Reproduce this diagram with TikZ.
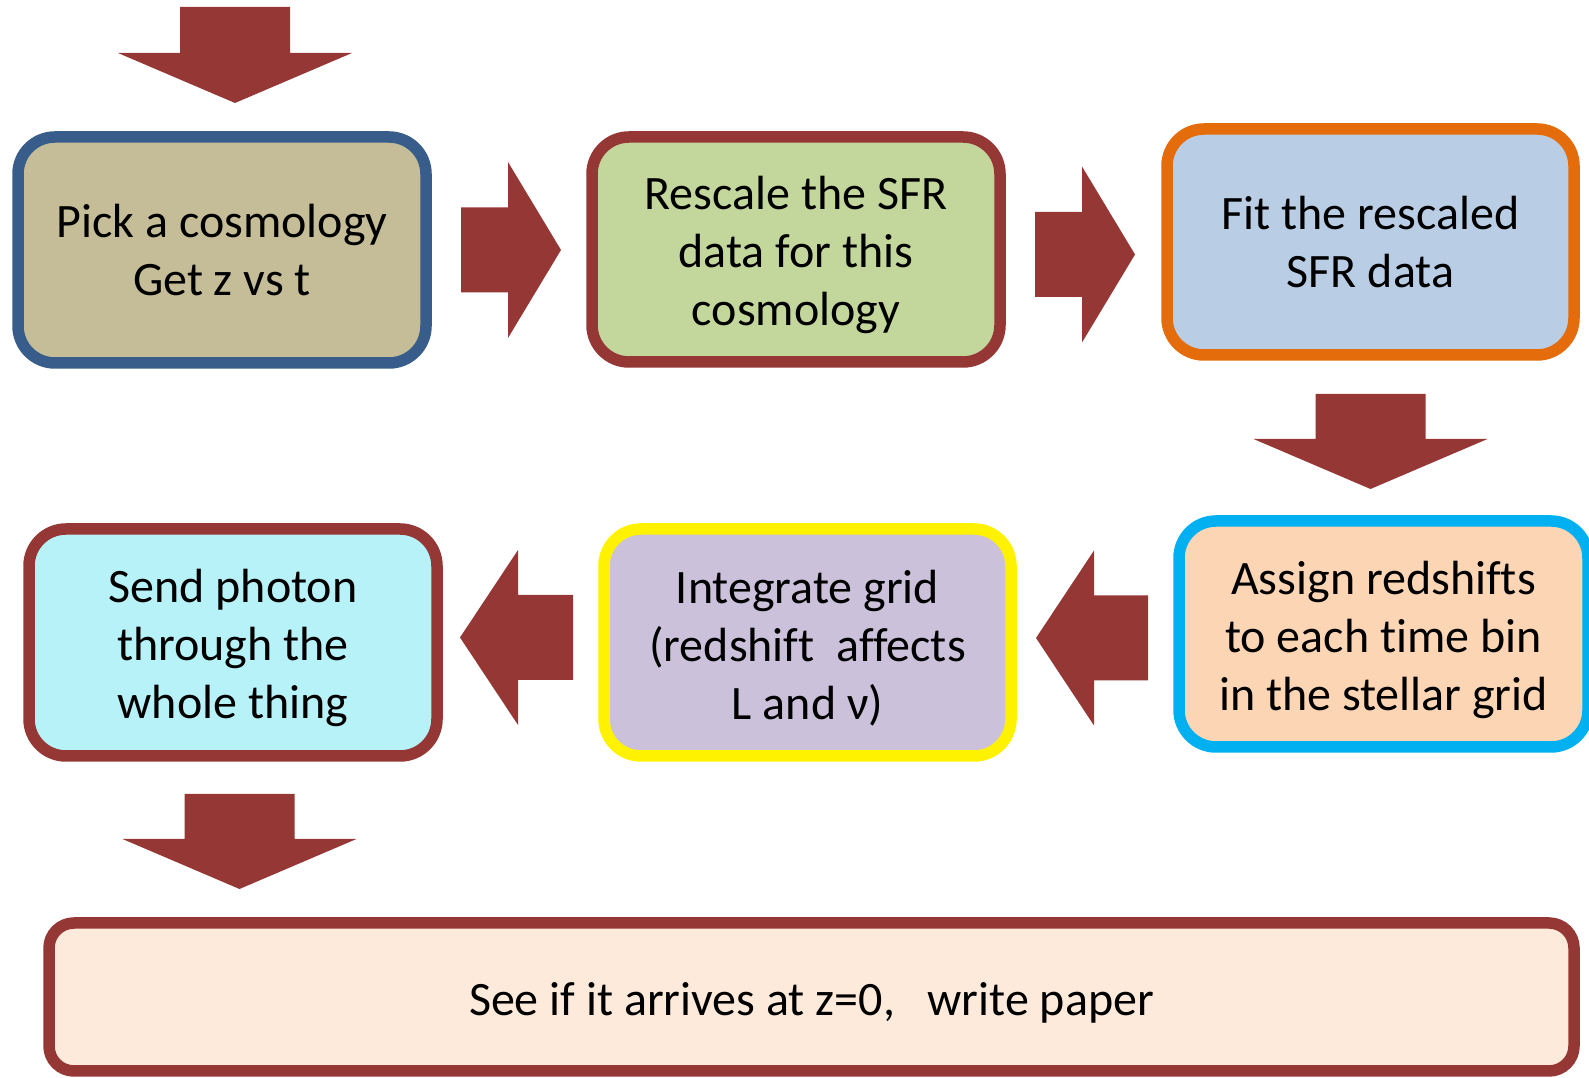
\documentclass[tikz,border=0pt]{standalone}
\usepackage{fontspec}
\setmainfont{Carlito}[Ligatures=NoCommon]
\usetikzlibrary{calc}
\definecolor{arrowred}{RGB}{149,55,53}
\definecolor{cosmoline}{RGB}{56,93,138}
\definecolor{cosmofill}{RGB}{196,189,151}
\definecolor{rescalefill}{RGB}{195,214,155}
\definecolor{fitfill}{RGB}{185,205,229}
\definecolor{fitline}{RGB}{228,108,10}
\definecolor{photonfill}{RGB}{183,242,249}
\definecolor{integratefill}{RGB}{204,193,218}
\definecolor{assignfill}{RGB}{252,213,181}
\definecolor{assignline}{RGB}{0,176,240}
\definecolor{paperfill}{RGB}{253,234,218}
\newcommand\firststrut{\rule{0pt}{45pt}}
\begin{document}
\begin{tikzpicture}[x=1pt, y=1pt,
  stepbox/.style={shape=rectangle, rounded corners=37pt, line width=11.5pt,
    inner sep=0pt, align=center, font=\fontsize{48}{58}\selectfont},
  blockarrow/.style n args={3}{fill=arrowred, to path={
    let \p1=(\tikztostart), \p2=(\tikztotarget),
        \n1={veclen(\x2-\x1,\y2-\y1)}, \n2={atan2(\y2-\y1,\x2-\x1)} in
    ([shift={(\p1)},rotate=\n2]0,#1) -- ([shift={(\p1)},rotate=\n2]\n1-#3,#1)
    -- ([shift={(\p1)},rotate=\n2]\n1-#3,#2) -- (\p2)
    -- ([shift={(\p1)},rotate=\n2]\n1-#3,-#2) -- ([shift={(\p1)},rotate=\n2]\n1-#3,-#1)
    -- ([shift={(\p1)},rotate=\n2]0,-#1) -- cycle}},
  downarrow/.style={blockarrow={55}{117}{50}},
  rightarrow/.style={blockarrow={42.5}{88}{53}},
  leftarrow/.style={blockarrow={42.5}{87.5}{58}}]
\useasboundingbox (0,0) rectangle (1589,1078);
% boxes
\node[stepbox, draw=cosmoline, fill=cosmofill, minimum width=408pt, minimum height=226pt] (cosmo) at (222,828) {Pick a cosmology\\Get z vs t};
\node[stepbox, draw=arrowred, fill=rescalefill, minimum width=408pt, minimum height=225pt] (rescale) at (796,828.5) {\firststrut Rescale the SFR\\data for this\\cosmology};
\node[stepbox, draw=fitline, fill=fitfill, minimum width=407pt, minimum height=226pt] (fit) at (1370.5,836) {Fit the rescaled\\SFR data};
\node[stepbox, draw=assignline, fill=assignfill, minimum width=409pt, minimum height=226pt] (assign) at (1383.5,444) {\firststrut Assign redshifts\\to each time bin\\in the stellar grid};
\node[stepbox, draw=yellow, fill=integratefill, minimum width=407pt, minimum height=227pt] (integrate) at (807.5,435.5) {\firststrut Integrate grid\\(redshift\ \ affects\\L and ν)};
\node[stepbox, draw=arrowred, fill=photonfill, minimum width=408pt, minimum height=227pt] (photon) at (233,435.5) {\firststrut Send photon\\through the\\whole thing};
\node[stepbox, rounded corners=25pt, draw=arrowred, fill=paperfill, minimum width=1525pt, minimum height=148pt] (paper) at (811.5,81) {\firststrut See if it arrives at z=0,\ \ \ write paper};
% arrow ends
\coordinate (in0) at (235,1071);   \coordinate (in1) at (235,975);
\coordinate (cr0) at (461,828);    \coordinate (cr1) at (561,828);
\coordinate (rf0) at (1035,823.5); \coordinate (rf1) at (1135,823.5);
\coordinate (fa0) at (1370.5,684); \coordinate (fa1) at (1370.5,589);
\coordinate (ai0) at (1148,440);   \coordinate (ai1) at (1036,440);
\coordinate (ip0) at (573,440.5);  \coordinate (ip1) at (460,440.5);
\coordinate (pp0) at (239.5,284);  \coordinate (pp1) at (239.5,189);
% block arrows
\path[downarrow] (in0) to (in1);
\path[rightarrow] (cr0) to (cr1);
\path[rightarrow] (rf0) to (rf1);
\path[downarrow] (fa0) to (fa1);
\path[leftarrow] (ai0) to (ai1);
\path[leftarrow] (ip0) to (ip1);
\path[downarrow] (pp0) to (pp1);
\end{tikzpicture}
\end{document}
